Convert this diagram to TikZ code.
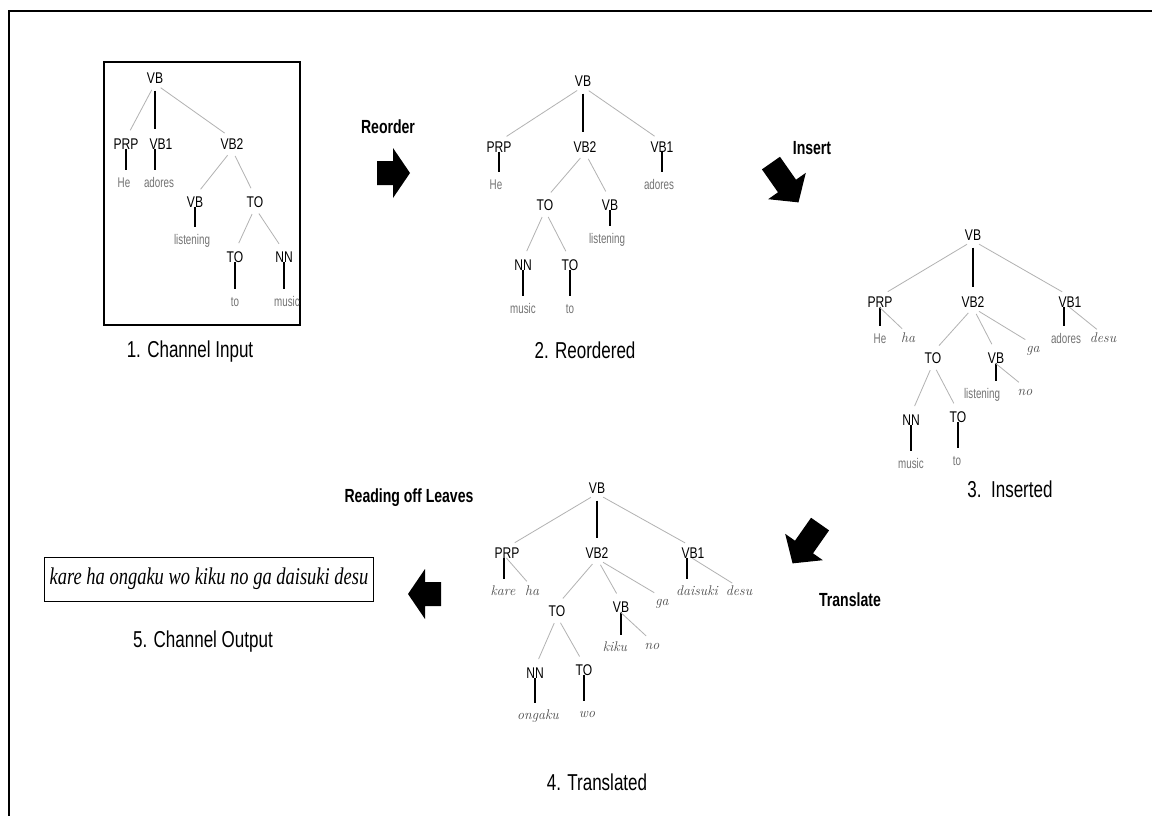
\documentclass[tikz,border=0pt]{standalone}
\usepackage{fontspec}
\newfontfamily\labfont[FakeStretch=0.78]{Liberation Sans}
\newfontfamily\leaffont[FakeStretch=0.7]{Liberation Sans}
\newfontfamily\capfont[FakeStretch=0.74]{Liberation Sans}
\newfontfamily\opfont[FakeStretch=0.74]{Liberation Sans}
\newfontfamily\outfont[FakeStretch=0.77]{Liberation Serif}
\newcommand\blockarrow[3]{\fill[shift={(#1,#2)},rotate=#3] (-16,-12) -- (0,-12) -- (0,-25) -- (17,0) -- (0,25) -- (0,12) -- (-16,12) -- cycle;}
\newcommand\slantarrow[3]{\fill[shift={(#1,#2)},rotate=#3] (-28,-11) -- (0,-11) -- (0,-23) -- (20,0) -- (0,23) -- (0,11) -- (-28,11) -- cycle;}
\begin{document}
\begin{tikzpicture}[x=1pt,y=-1pt,
  lab/.style={font=\labfont\fontsize{15.5}{17}\selectfont, inner sep=0pt, text height=11pt, text depth=0pt},
  leaf/.style={font=\leaffont\fontsize{14}{16}\selectfont, text=black!55, inner sep=0pt, text height=9pt, text depth=3pt},
  jp/.style={font=\itshape\fontsize{14}{16}\selectfont, text=black!70, inner sep=0pt, text height=8pt, text depth=3pt},
  captxt/.style={font=\capfont\fontsize{23}{26}\selectfont, inner sep=0pt},
  optxt/.style={font=\opfont\bfseries\fontsize{19}{22}\selectfont, inner sep=0pt},
  gedge/.style={draw=black!30, line width=0.8pt, shorten <=7pt, shorten >=9pt},
  bedge/.style={draw=black, line width=1.2pt, shorten <=7pt, shorten >=9pt},
  gleaf/.style={draw=black!30, line width=0.8pt, shorten <=-1pt, shorten >=8pt},
  bleaf/.style={draw=black, line width=1.2pt, shorten <=-1pt, shorten >=8pt}]
\useasboundingbox (0,0) rectangle (1152,816);
\fill[white] (0,0) rectangle (1152,816);
% outer frame
\draw[line width=2pt] (9,816) -- (9,11) -- (1152,11);

% ---------- Tree 1 ----------
\draw[line width=1.2pt] (104,62) rectangle (300,325);
\node[lab] (a-vb) at (155,78) {VB};
\node[lab] (a-prp) at (126,144) {PRP};
\node[lab] (a-vb1) at (161,144) {VB1};
\node[lab] (a-vb2) at (232,144) {VB2};
\node[leaf] (a-he) at (124,184) {He};
\node[leaf] (a-adores) at (159,184) {adores};
\node[lab] (a-vb3) at (195,202) {VB};
\node[lab] (a-to) at (255,202) {TO};
\node[leaf] (a-listening) at (192,241) {listening};
\node[lab] (a-to2) at (235,257) {TO};
\node[lab] (a-nn) at (284,257) {NN};
\node[leaf] (a-tow) at (235,303) {to};
\node[leaf] (a-music) at (287,303) {music};
\draw[gedge] (a-vb.south) -- (a-prp.north);
\draw[bedge] (a-vb.south) -- (a-vb.south |- a-vb1.north);
\draw[gedge] (a-vb.south) -- (a-vb2.north);
\draw[bleaf] (a-prp.south) -- (a-prp.south |- a-he.north);
\draw[bleaf] (a-vb1.south -| a-vb.south) -- (a-vb.south |- a-adores.north);
\draw[gedge] (a-vb2.south) -- (a-vb3.north);
\draw[gedge] (a-vb2.south) -- (a-to.north);
\draw[bleaf] (a-vb3.south) -- (a-vb3.south |- a-listening.north);
\draw[gedge] (a-to.south) -- (a-to2.north);
\draw[gedge] (a-to.south) -- (a-nn.north);
\draw[bleaf] (a-to2.south) -- (a-to2.south |- a-tow.north);
\draw[bleaf] (a-nn.south) -- (a-nn.south |- a-music.north);
\node[captxt] (cap1) at (190,352) {1. Channel Input};

% ---------- Reorder ----------
\node[optxt] (reorder) at (388,127) {Reorder};
\blockarrow{393}{173}{0}

% ---------- Tree 2 ----------
\node[lab] (b-vb) at (583,81) {VB};
\node[lab] (b-prp) at (499,147) {PRP};
\node[lab] (b-vb2) at (585,147) {VB2};
\node[lab] (b-vb1) at (662,147) {VB1};
\node[leaf] (b-he) at (496,186) {He};
\node[leaf] (b-adores) at (659,186) {adores};
\node[lab] (b-to) at (545,205) {TO};
\node[lab] (b-vb3) at (610,205) {VB};
\node[leaf] (b-listening) at (607,240) {listening};
\node[lab] (b-nn) at (523,265) {NN};
\node[lab] (b-to2) at (570,265) {TO};
\node[leaf] (b-music) at (523,310) {music};
\node[leaf] (b-tow) at (570,310) {to};
\draw[gedge] (b-vb.south) -- (b-prp.north);
\draw[bedge] (b-vb.south) -- (b-vb.south |- b-vb2.north);
\draw[gedge] (b-vb.south) -- (b-vb1.north);
\draw[bleaf] (b-prp.south) -- (b-prp.south |- b-he.north);
\draw[bleaf] (b-vb1.south) -- (b-vb1.south |- b-adores.north);
\draw[gedge] (b-vb2.south) -- (b-to.north);
\draw[gedge] (b-vb2.south) -- (b-vb3.north);
\draw[bleaf] (b-vb3.south) -- (b-vb3.south |- b-listening.north);
\draw[gedge] (b-to.south) -- (b-nn.north);
\draw[gedge] (b-to.south) -- (b-to2.north);
\draw[bleaf] (b-nn.south) -- (b-nn.south |- b-music.north);
\draw[bleaf] (b-to2.south) -- (b-to2.south |- b-tow.north);
\node[captxt] (cap2) at (585,350) {2. Reordered};

% ---------- Insert ----------
\node[optxt] (insert) at (812,148) {Insert};
\slantarrow{787}{186}{-55}

% ---------- Tree 3 ----------
\node[lab] (c-vb) at (973,235) {VB};
\node[lab] (c-prp) at (880,302) {PRP};
\node[lab] (c-vb2) at (973,302) {VB2};
\node[lab] (c-vb1) at (1070,302) {VB1};
\node[leaf] (c-he) at (880,340) {He};
\node[jp] (c-ha) at (908,340) {ha};
\node[leaf] (c-adores) at (1066,340) {adores};
\node[jp] (c-desu) at (1103,340) {desu};
\node[lab] (c-to) at (933,358) {TO};
\node[lab] (c-vb3) at (996,358) {VB};
\node[jp] (c-ga) at (1033,350) {ga};
\node[leaf] (c-listening) at (982,395) {listening};
\node[jp] (c-no) at (1025,393) {no};
\node[lab] (c-nn) at (911,420) {NN};
\node[lab] (c-to2) at (958,417) {TO};
\node[leaf] (c-music) at (911,465) {music};
\node[leaf] (c-tow) at (957,462) {to};
\draw[gedge] (c-vb.south) -- (c-prp.north);
\draw[bedge] (c-vb.south) -- (c-vb.south |- c-vb2.north);
\draw[gedge] (c-vb.south) -- (c-vb1.north);
\draw[bleaf] (c-prp.south) -- (c-prp.south |- c-he.north);
\draw[gleaf] (c-prp.south) -- (c-ha.north);
\draw[bleaf] ([xshift=-6pt]c-vb1.south) -- ([xshift=-6pt]c-vb1.south |- c-adores.north);
\draw[gleaf] (c-vb1.south) -- (c-desu.north);
\draw[gedge] (c-vb2.south) -- (c-to.north);
\draw[gedge] (c-vb2.south) -- (c-vb3.north);
\draw[gedge] (c-vb2.south) -- (c-ga.north);
\draw[bleaf] (c-vb3.south) -- (c-vb3.south |- c-listening.north);
\draw[gleaf] (c-vb3.south) -- (c-no.north);
\draw[gedge] (c-to.south) -- (c-nn.north);
\draw[gedge] (c-to.south) -- (c-to2.north);
\draw[bleaf] (c-nn.south) -- (c-nn.south |- c-music.north);
\draw[bleaf] (c-to2.south) -- (c-to2.south |- c-tow.north);
\node[captxt] (cap3) at (1010,489) {3.\ \ Inserted};

% ---------- Translate ----------
\slantarrow{804}{547}{-125}
\node[optxt] (translate) at (850,600) {Translate};

% ---------- Tree 4 ----------
\node[lab] (d-vb) at (597,488) {VB};
\node[lab] (d-prp) at (507,553) {PRP};
\node[lab] (d-vb2) at (597,553) {VB2};
\node[lab] (d-vb1) at (693,553) {VB1};
\node[jp] (d-kare) at (503,593) {kare};
\node[jp] (d-ha) at (532,593) {ha};
\node[jp] (d-daisuki) at (697,593) {daisuki};
\node[jp] (d-desu) at (739,593) {desu};
\node[lab] (d-to) at (557,611) {TO};
\node[lab] (d-vb3) at (621,607) {VB};
\node[jp] (d-ga) at (662,603) {ga};
\node[jp] (d-kiku) at (615,649) {kiku};
\node[jp] (d-no) at (652,647) {no};
\node[lab] (d-nn) at (535,673) {NN};
\node[lab] (d-to2) at (584,670) {TO};
\node[jp] (d-ongaku) at (538,717) {ongaku};
\node[jp] (d-wo) at (587,715) {wo};
\draw[gedge] (d-vb.south) -- (d-prp.north);
\draw[bedge] (d-vb.south) -- (d-vb.south |- d-vb2.north);
\draw[gedge] (d-vb.south) -- (d-vb1.north);
\draw[bleaf] ([xshift=-3pt]d-prp.south) -- ([xshift=-3pt]d-prp.south |- d-kare.north);
\draw[gleaf] (d-prp.south) -- (d-ha.north);
\draw[bleaf] ([xshift=-6pt]d-vb1.south) -- ([xshift=-6pt]d-vb1.south |- d-daisuki.north);
\draw[gleaf] (d-vb1.south) -- (d-desu.north);
\draw[gedge] (d-vb2.south) -- (d-to.north);
\draw[gedge] (d-vb2.south) -- (d-vb3.north);
\draw[gedge] (d-vb2.south) -- (d-ga.north);
\draw[bleaf] (d-vb3.south) -- (d-vb3.south |- d-kiku.north);
\draw[gleaf] (d-vb3.south) -- (d-no.north);
\draw[gedge] (d-to.south) -- (d-nn.north);
\draw[gedge] (d-to.south) -- (d-to2.north);
\draw[bleaf] (d-nn.south) -- (d-nn.south |- d-ongaku.north);
\draw[bleaf] (d-to2.south) -- (d-to2.south |- d-wo.north);
\node[captxt] (cap4) at (597,782) {4. Translated};

% ---------- Reading off Leaves ----------
\node[optxt] (reading) at (409,498) {Reading off Leaves};
\blockarrow{425}{594}{180}

% ---------- Output ----------
\node[draw, line width=1pt, inner xsep=5pt, inner ysep=0pt, minimum height=44pt,
      font=\outfont\itshape\fontsize{24}{26}\selectfont] (out) at (209,579)
      {kare ha ongaku wo kiku no ga daisuki desu};
\node[captxt] (cap5) at (203,642) {5. Channel Output};
\end{tikzpicture}
\end{document}
